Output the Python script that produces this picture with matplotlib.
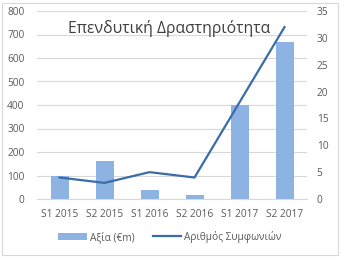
import matplotlib.pyplot as plt
import numpy as np
from matplotlib.patches import Rectangle

plt.rcParams['font.family'] = ['Open Sans', 'DejaVu Sans']

categories = ["S1 2015", "S2 2015", "S1 2016", "S2 2016", "S1 2017", "S2 2017"]
value_eur_m = [100, 163, 38, 18, 400, 668]
deal_count = [4, 3, 5, 4, 18, 32]

txt = '#595959'
x = np.arange(len(categories))

fig = plt.figure(figsize=(3.45, 2.65), dpi=100)
ax = fig.add_axes([37/345, 1 - 199/265, 270/345, 188/265])
ax2 = ax.twinx()

ax.bar(x, value_eur_m, width=0.4, color='#8db3e2', label='Αξία (€m)', zorder=2)
ax2.plot(x, deal_count, color='#3a6ca8', lw=1.6, label='Αριθμός Συμφωνιών')

ax.set_xlim(-0.5, 5.5)
ax.set_ylim(0, 800)
ax.set_yticks(range(0, 801, 100))
ax2.set_ylim(0, 35)
ax2.set_yticks(range(0, 36, 5))
ax.set_xticks(x)
ax.set_xticklabels(categories)
ax.yaxis.grid(True, color='#d9d9d9', lw=0.8, zorder=0)
ax.set_axisbelow(True)

for a in (ax, ax2):
    for s in a.spines.values():
        s.set_visible(False)
    a.tick_params(length=0, labelsize=7.3, colors=txt)
ax.spines['bottom'].set_visible(True)
ax.spines['bottom'].set_color('#d9d9d9')
ax.tick_params(axis='y', pad=9)
ax.tick_params(axis='x', pad=7)
ax2.tick_params(axis='y', pad=7)

ax.text(0.49, 0.905, "Επενδυτική Δραστηριότητα", transform=ax.transAxes,
        ha='center', va='center', fontsize=11.3, color='#404040')

h1, l1 = ax.get_legend_handles_labels()
h2, l2 = ax2.get_legend_handles_labels()
fig.legend(h1 + h2, l1 + l2, loc='center', bbox_to_anchor=(170/345, 1 - 237/265),
           ncol=2, frameon=False, fontsize=7.3, labelcolor=txt,
           handlelength=2.8, columnspacing=1.8, handletextpad=0.3)

fig.patches.append(Rectangle((2/345, 1 - 255/265), 336/345, 252/265,
                             transform=fig.transFigure, fill=False,
                             edgecolor='#d9d9d9', lw=0.8))

fig.savefig("out.png", dpi=100)
